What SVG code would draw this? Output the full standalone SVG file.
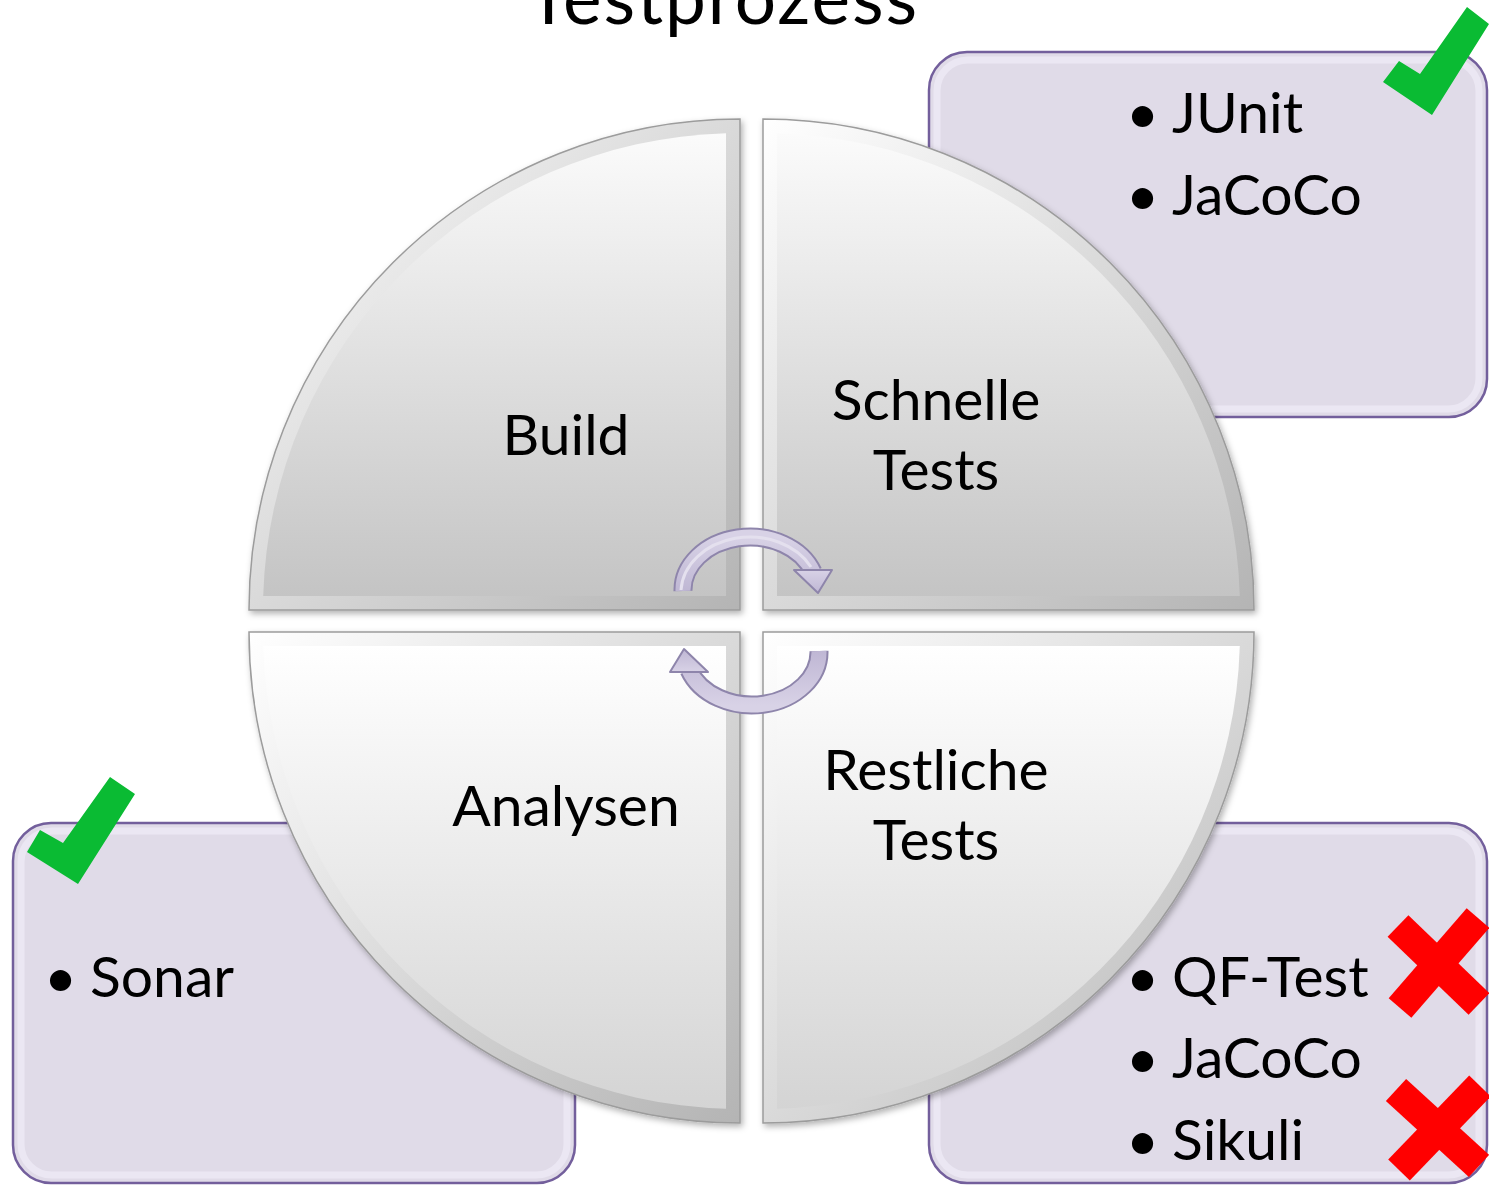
<svg xmlns="http://www.w3.org/2000/svg" width="1489" height="1185" viewBox="0 0 1489 1185">
  <style>
    .lbl { font-family: Lato, "Open Sans", "Liberation Sans", sans-serif; font-size: 57px; fill: #000; }
    .title { font-family: Lato, "Open Sans", "Liberation Sans", sans-serif; font-size: 73px; fill: #000; }
    .box { fill: #e0dbe8; stroke: #735f9c; stroke-width: 2.5; }
    .boxhl { fill: none; stroke: #ebe7f3; stroke-width: 7; }
    .outer { stroke: #9c9c9c; stroke-width: 1.5; filter: url(#sh); }
    .check { fill: #0abb33; }
    .cross { stroke: #ff0000; stroke-width: 30; stroke-linecap: butt; fill: none; }
    .arrEdge { fill: none; stroke: #8e85ab; stroke-width: 19; }
    .arrFill { fill: none; stroke: url(#arrG); stroke-width: 15; }
    .arrHl { fill: none; stroke: #e4e0ee; stroke-width: 3; }
  </style>
  <defs>
    <filter id="sh" x="-10%" y="-10%" width="120%" height="120%">
      <feDropShadow dx="2" dy="3" stdDeviation="3" flood-color="#000" flood-opacity="0.3"/>
    </filter>
    <linearGradient id="bevel" x1="0" y1="0" x2="1" y2="1">
      <stop offset="0" stop-color="#ffffff"/>
      <stop offset="1" stop-color="#b4b4b4"/>
    </linearGradient>
    <linearGradient id="faceTop" x1="0" y1="0" x2="0" y2="1">
      <stop offset="0" stop-color="#fbfbfb"/>
      <stop offset="1" stop-color="#c4c4c4"/>
    </linearGradient>
    <linearGradient id="faceBot" x1="0" y1="0" x2="0" y2="1">
      <stop offset="0" stop-color="#ffffff"/>
      <stop offset="1" stop-color="#d4d4d4"/>
    </linearGradient>
    <linearGradient id="arrG" x1="0" y1="0" x2="0" y2="1">
      <stop offset="0" stop-color="#d8d2e6"/>
      <stop offset="1" stop-color="#bfb7d4"/>
    </linearGradient>
  </defs>

  <g id="title">
    <text class="title" x="722" y="24" text-anchor="middle" textLength="390">Testprozess</text>
  </g>

  <g id="box-schnelle">
    <rect class="box" x="929" y="52" width="558" height="365" rx="38"/>
    <rect class="boxhl" x="937" y="60" width="542" height="349" rx="31"/>
    <text class="lbl"><tspan x="1126" y="133">•</tspan><tspan x="1172" y="133">JUnit</tspan></text>
    <text class="lbl"><tspan x="1126" y="215">•</tspan><tspan x="1172" y="215">JaCoCo</tspan></text>
  </g>

  <g id="box-analysen">
    <rect class="box" x="13" y="823" width="562" height="360" rx="38"/>
    <rect class="boxhl" x="21" y="831" width="546" height="344" rx="31"/>
    <text class="lbl"><tspan x="44" y="997">•</tspan><tspan x="90" y="997">Sonar</tspan></text>
  </g>

  <g id="box-restliche">
    <rect class="box" x="929" y="823" width="558" height="360" rx="38"/>
    <rect class="boxhl" x="937" y="831" width="542" height="344" rx="31"/>
    <text class="lbl"><tspan x="1126" y="997">•</tspan><tspan x="1172" y="997">QF-Test</tspan></text>
    <text class="lbl"><tspan x="1126" y="1078">•</tspan><tspan x="1172" y="1078">JaCoCo</tspan></text>
    <text class="lbl"><tspan x="1126" y="1160">•</tspan><tspan x="1172" y="1160">Sikuli</tspan></text>
  </g>

  <g id="q-build">
    <path class="outer" fill="url(#bevel)" d="M740,610 L249,610 A491,491 0 0 1 740,119 Z"/>
    <path fill="url(#faceTop)" d="M726,596 L263.2,596 A477,477 0 0 1 726,133.2 Z"/>
    <text class="lbl" x="566" y="455" text-anchor="middle">Build</text>
  </g>

  <g id="q-schnelle">
    <path class="outer" fill="url(#bevel)" d="M763,610 L763,119 A491,491 0 0 1 1254,610 Z"/>
    <path fill="url(#faceTop)" d="M777,596 L777,133.2 A477,477 0 0 1 1239.8,596 Z"/>
    <text class="lbl" x="936" y="420" text-anchor="middle">Schnelle</text>
    <text class="lbl" x="936" y="490" text-anchor="middle">Tests</text>
  </g>

  <g id="q-analysen">
    <path class="outer" fill="url(#bevel)" d="M740,632 L740,1123 A491,491 0 0 1 249,632 Z"/>
    <path fill="url(#faceBot)" d="M726,646 L726,1108.8 A477,477 0 0 1 263.2,646 Z"/>
    <text class="lbl" x="566" y="826" text-anchor="middle">Analysen</text>
  </g>

  <g id="q-restliche">
    <path class="outer" fill="url(#bevel)" d="M763,632 L1254,632 A491,491 0 0 1 763,1123 Z"/>
    <path fill="url(#faceBot)" d="M777,646 L1239.8,646 A477,477 0 0 1 777,1108.8 Z"/>
    <text class="lbl" x="936" y="790" text-anchor="middle">Restliche</text>
    <text class="lbl" x="936" y="860" text-anchor="middle">Tests</text>
  </g>

  <g id="connectors">
    <g id="arrow-top">
      <path class="arrEdge" d="M683,591 A67,53 0 0 1 813,572"/>
      <path class="arrFill" d="M683,591 A67,53 0 0 1 813,572"/>
      <path class="arrHl" d="M681,590 A69,56 0 0 1 811,567"/>
      <polygon points="794,570 832,570 818,593" fill="url(#arrG)" stroke="#8e85ab" stroke-width="2" stroke-linejoin="round"/>
    </g>
    <g id="arrow-bottom" transform="rotate(180 751 621)">
      <path class="arrEdge" d="M683,591 A67,53 0 0 1 813,572"/>
      <path class="arrFill" d="M683,591 A67,53 0 0 1 813,572"/>
      <polygon points="794,570 832,570 818,593" fill="url(#arrG)" stroke="#8e85ab" stroke-width="2" stroke-linejoin="round"/>
    </g>
  </g>

  <g id="marks">
    <polygon class="check" points="1383,82 1399,61 1420,74 1467,7 1489,24 1432,115"/>
    <polygon class="check" points="27,852 40,830 63,843 110,777 135,794 78,884"/>
    <line class="cross" x1="1398" y1="926" x2="1479" y2="1004"/>
    <line class="cross" x1="1478" y1="918" x2="1400" y2="1008"/>
    <line class="cross" x1="1396" y1="1090" x2="1479" y2="1166"/>
    <line class="cross" x1="1480" y1="1086" x2="1399" y2="1170"/>
  </g>
</svg>
